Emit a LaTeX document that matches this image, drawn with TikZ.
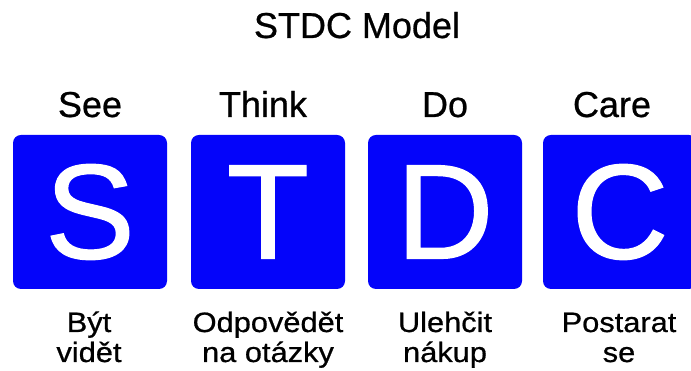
\documentclass[tikz,border=0pt]{standalone}
\usepackage{fontspec}
\setmainfont[FakeBold=0.7]{Liberation Sans}
\newfontfamily\lblfont[FakeStretch=1.1,FakeBold=0.7]{Liberation Sans}
\newfontfamily\bigfont[FakeBold=0.9]{Liberation Sans}
\definecolor{stdcblue}{RGB}{4,4,250}
\begin{document}
\begin{tikzpicture}[x=1pt,y=1pt,
  letterbox/.style={fill=stdcblue, rounded corners=8pt, minimum width=154pt, minimum height=154pt, inner sep=0pt, text=white, font=\bigfont\fontsize{135}{135}\selectfont},
  headtext/.style={anchor=base, inner sep=0pt, font=\fontsize{36}{36}\selectfont},
  subtext/.style={anchor=base, inner sep=0pt, font=\lblfont\fontsize{28}{28}\selectfont},
  titletext/.style={anchor=base, inner sep=0pt, font=\fontsize{36}{36}\selectfont}]
\useasboundingbox (0,0) rectangle (691,371);
\clip (0,0) rectangle (691,371);
\node[titletext] (title) at (357,333) {STDC Model};
% headings
\node[headtext] (hs) at (90,254) {See};
\node[headtext] (ht) at (263,254) {Think};
\node[headtext] (hd) at (445,254) {Do};
\node[headtext] (hc) at (612,254) {Care};
% boxes
\node[letterbox] (bs) at (90,159) {S};
\node[letterbox] (bt) at (268,159) {T};
\node[letterbox] (bd) at (445,159) {D};
\node[letterbox] (bc) at (620,159) {C};
% bottom labels
\node[subtext] (s1) at (89,39) {Být};
\node[subtext] (s2) at (89,9) {vidět};
\node[subtext] (t1) at (268,39) {Odpovědět};
\node[subtext] (t2) at (268,9) {na otázky};
\node[subtext] (d1) at (445,39) {Ulehčit};
\node[subtext] (d2) at (445,9) {nákup};
\node[subtext] (c1) at (619,39) {Postarat};
\node[subtext] (c2) at (619,9) {se};
\end{tikzpicture}
\end{document}
